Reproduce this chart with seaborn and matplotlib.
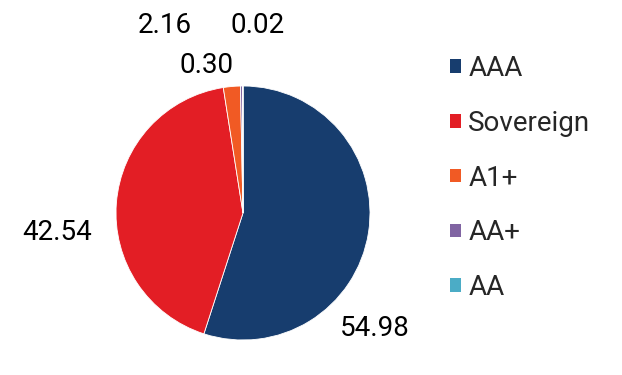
import matplotlib
matplotlib.use("Agg")
import matplotlib.pyplot as plt
from matplotlib.patches import Patch
import seaborn as sns

categories = ["AAA", "Sovereign", "A1+", "AA+", "AA"]
values = [54.98, 42.54, 2.16, 0.30, 0.02]
colors = ["#173d6e", "#e31e25", "#f15a24", "#8064a2", "#4bacc6"]

sns.set_theme(style="white")
plt.rcParams['font.family'] = ['Roboto', 'DejaVu Sans']

W, H = 622, 375
fig = plt.figure(figsize=(W / 100, H / 100), dpi=100)
cx, cy, r = 243, 213, 127
ax = fig.add_axes([(cx - r) / W, (H - cy - r) / H, 2 * r / W, 2 * r / H])
pal = sns.color_palette(colors)
wedges, _ = ax.pie(values, colors=pal, startangle=90, counterclock=False,
                   radius=1, wedgeprops=dict(linewidth=0.6, edgecolor="white"))
ax.set_xlim(-1, 1)
ax.set_ylim(-1, 1)
ax.set_aspect("equal")
ax.axis("off")

# label positions (pie-radius units)
label_pos = [(1.04, -0.906), (-1.465, -0.157), (-0.614, 1.48), (-0.283, 1.165), (0.118, 1.48)]
for v, (lx, ly) in zip(values, label_pos):
    ax.text(lx, ly, f"{v:.2f}", ha="center", va="center", fontsize=20, color="black", clip_on=False)

handles = [Patch(facecolor=c, edgecolor="none") for c in pal]
leg = fig.legend(handles, categories, loc="upper left",
                 bbox_to_anchor=(450 / W, 1 - 55 / H), frameon=False,
                 fontsize=20, handlelength=0.38, handleheight=0.38,
                 handletextpad=0.28, labelspacing=1.0, borderpad=0, borderaxespad=0)

fig.savefig("out.png", dpi=100, facecolor="white")
